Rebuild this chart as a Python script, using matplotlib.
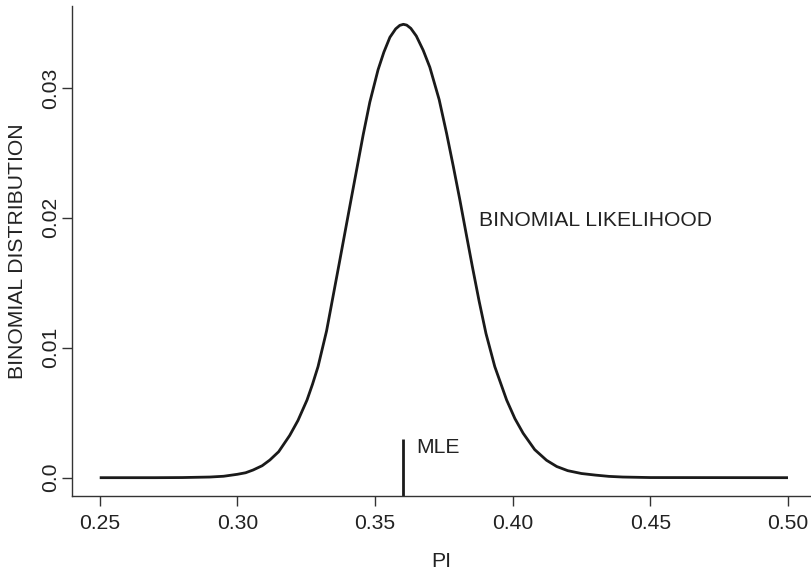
import matplotlib.pyplot as plt

# likelihood curve read as (pi, value) pairs
pi_vals = [0.25, 0.27, 0.28, 0.29, 0.295, 0.30, 0.303, 0.3057, 0.309, 0.3118,
           0.315, 0.319, 0.322, 0.3253, 0.3273, 0.3293, 0.3324, 0.3347, 0.3370,
           0.3412, 0.3457, 0.3481, 0.3511, 0.3532, 0.3554, 0.3575, 0.3590,
           0.3603, 0.3615, 0.3630, 0.3650, 0.3675, 0.3699, 0.3716, 0.3733,
           0.3760, 0.3784, 0.3808, 0.3830, 0.3854, 0.3878, 0.3903, 0.3935,
           0.3978, 0.4008, 0.4038, 0.408, 0.4123, 0.416, 0.42, 0.425, 0.43,
           0.435, 0.44, 0.45, 0.50]
lik_vals = [0.0, 0.0, 0.00001, 0.00005, 0.00011, 0.00026, 0.00038, 0.00059,
            0.00092, 0.00136, 0.0020, 0.00325, 0.0044, 0.00598, 0.0072,
            0.00855, 0.0113, 0.0139, 0.0165, 0.0213, 0.0264, 0.0289, 0.0314,
            0.03275, 0.0339, 0.03455, 0.03482, 0.0349, 0.03484, 0.03459,
            0.0340, 0.0329, 0.0316, 0.03035, 0.0291, 0.0265, 0.0240, 0.0214,
            0.0189, 0.0162, 0.0136, 0.0111, 0.00855, 0.00598, 0.00455,
            0.00342, 0.00216, 0.00134, 0.00086, 0.00054, 0.00032, 0.0002,
            0.0001, 0.00005, 0.00001, 0.0]

mle = 0.3603
mle_top = 0.003

xticks = [0.25, 0.30, 0.35, 0.40, 0.45, 0.50]
xticklabels = ["0.25", "0.30", "0.35", "0.40", "0.45", "0.50"]
yticks = [0.0, 0.01, 0.02, 0.03]
yticklabels = ["0.0", "0.01", "0.02", "0.03"]

plt.rcParams['font.family'] = ['Liberation Sans', 'DejaVu Sans']
txt = '#222222'
fs = 15.2

fig = plt.figure(figsize=(8.11, 5.73), dpi=100)
ax = fig.add_axes([72/811, 77/573, 739/811, 490/573])

ax.plot(pi_vals, lik_vals, color='#1a1a1a', lw=2.0,
        solid_joinstyle='round', solid_capstyle='butt')

ax.set_xlim(0.23993, 0.50836)
ax.set_ylim(-0.00141, 0.03631)

ymin = ax.get_ylim()[0]
ax.plot([mle, mle], [ymin, mle_top], color='#1a1a1a', lw=2.0, solid_capstyle='butt')
ax.text(mle + 0.0045, 0.00229, "MLE", fontsize=fs, color=txt, va='center', ha='left')
ax.text(0.3877, 0.0198, "BINOMIAL LIKELIHOOD", fontsize=fs, color=txt,
        va='center', ha='left')

for s in ['top', 'right']:
    ax.spines[s].set_visible(False)
for s in ['left', 'bottom']:
    ax.spines[s].set_linewidth(1.0)
    ax.spines[s].set_color('#333333')

ax.set_xticks(xticks)
ax.set_xticklabels(xticklabels)
ax.set_yticks(yticks)
ax.set_yticklabels(yticklabels, rotation=90, va='center')
ax.tick_params(axis='both', length=7.2, width=1.0, color='#333333',
               labelsize=fs, labelcolor=txt)
ax.tick_params(axis='x', pad=6)
ax.tick_params(axis='y', pad=1.5)

ax.set_xlabel("PI", fontsize=fs, color=txt, va='center')
ax.set_ylabel("BINOMIAL DISTRIBUTION", fontsize=fs, color=txt, va='center')
ax.xaxis.set_label_coords(0.5, -0.1327)
ax.yaxis.set_label_coords(-0.0731, 0.5)

fig.savefig("out.png", dpi=100)
